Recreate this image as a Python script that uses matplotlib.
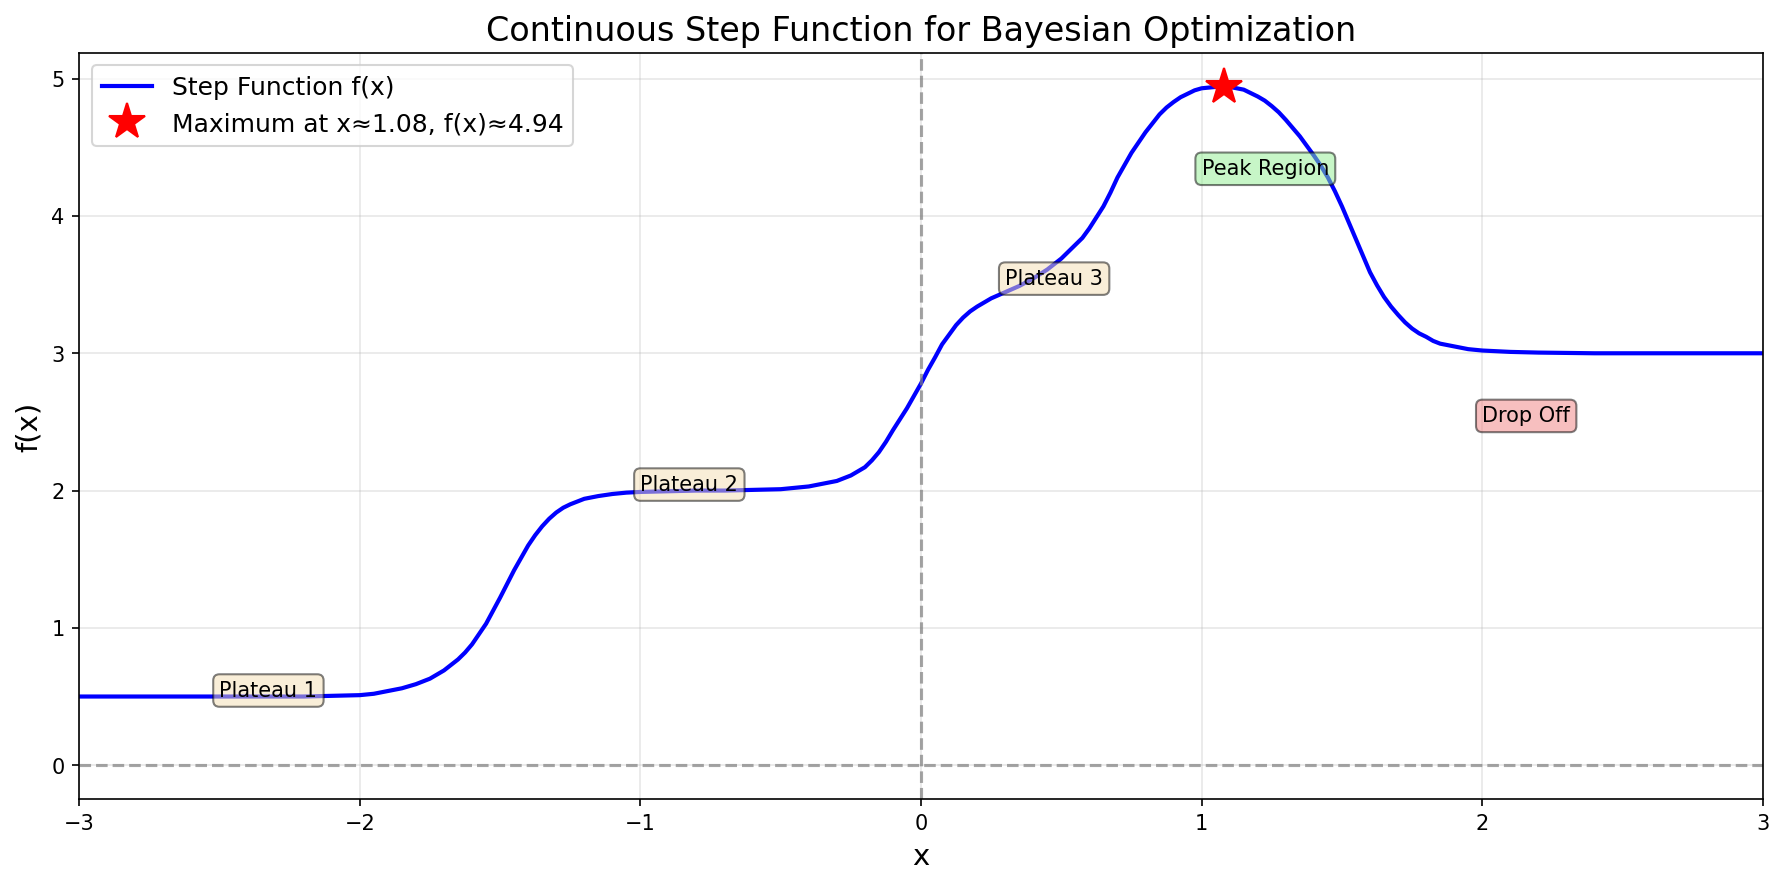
import numpy as np
import matplotlib
matplotlib.use('Agg')
import matplotlib.pyplot as plt

# curve values
x_vals = [-3.0, -2.5, -2.2, -2.1, -2.0, -1.95, -1.9, -1.85, -1.825, -1.8, -1.775,
          -1.75, -1.725, -1.7, -1.675, -1.65, -1.625, -1.6, -1.55, -1.5, -1.45, -1.4,
          -1.375, -1.35, -1.325, -1.3, -1.275, -1.25, -1.225, -1.2, -1.175, -1.15,
          -1.1, -1.05, -1.0, -0.9, -0.8, -0.7, -0.6, -0.5, -0.45, -0.4, -0.35, -0.3,
          -0.25, -0.225, -0.2, -0.175, -0.15, -0.125, -0.1, -0.075, -0.05, 0.0, 0.025,
          0.05, 0.075, 0.1, 0.125, 0.15, 0.175, 0.2, 0.225, 0.25, 0.3, 0.35, 0.4, 0.45,
          0.5, 0.55, 0.575, 0.6, 0.625, 0.65, 0.675, 0.7, 0.75, 0.8, 0.85, 0.875, 0.9,
          0.925, 0.95, 0.975, 1.0, 1.05, 1.1, 1.15, 1.2, 1.225, 1.25, 1.275, 1.3, 1.325,
          1.35, 1.4, 1.425, 1.45, 1.475, 1.5, 1.525, 1.55, 1.575, 1.6, 1.625, 1.65,
          1.675, 1.7, 1.725, 1.75, 1.775, 1.8, 1.825, 1.85, 1.9, 1.95, 2.0, 2.1, 2.2,
          2.4, 3.0]
y_vals = [0.5, 0.5, 0.5, 0.505, 0.51, 0.52, 0.54, 0.56, 0.575, 0.59, 0.61,
          0.63, 0.66, 0.69, 0.73, 0.77, 0.82, 0.88, 1.03, 1.22, 1.42, 1.60,
          1.675, 1.74, 1.795, 1.84, 1.875, 1.90, 1.92, 1.94, 1.95, 1.96,
          1.975, 1.985, 1.99, 1.995, 2.0, 2.0, 2.005, 2.01, 2.02, 2.03, 2.05, 2.07,
          2.11, 2.14, 2.17, 2.22, 2.28, 2.355, 2.44, 2.52, 2.60, 2.78, 2.88,
          2.97, 3.065, 3.135, 3.205, 3.26, 3.305, 3.34, 3.37, 3.40, 3.445, 3.49, 3.545, 3.61,
          3.69, 3.79, 3.84, 3.91, 3.99, 4.07, 4.17, 4.28, 4.46, 4.61, 4.74, 4.79, 4.83,
          4.865, 4.89, 4.915, 4.93, 4.94, 4.94, 4.92, 4.87, 4.84, 4.80, 4.755, 4.70, 4.64,
          4.58, 4.44, 4.365, 4.28, 4.18, 4.07, 3.95, 3.83, 3.71, 3.59, 3.495, 3.41,
          3.34, 3.28, 3.225, 3.18, 3.145, 3.12, 3.09, 3.07, 3.05, 3.03, 3.02, 3.01, 3.005,
          3.0, 3.0]

peak_x = 1.08
peak_y = 4.94

labels = ['Plateau 1', 'Plateau 2', 'Plateau 3', 'Peak Region', 'Drop Off']
label_x = [-2.5, -1.0, 0.3, 1.0, 2.0]
label_y = [0.5, 2.0, 3.5, 4.3, 2.5]
label_colors = ['wheat', 'wheat', 'wheat', 'lightgreen', 'lightcoral']

fig, ax = plt.subplots(figsize=(12, 6))
ax.plot(x_vals, y_vals, 'b-', linewidth=2, label='Step Function f(x)')
ax.plot(peak_x, peak_y, 'r*', markersize=18,
        label=f'Maximum at x≈{peak_x:.2f}, f(x)≈{peak_y:.2f}')

ax.axhline(0, color='gray', linestyle='--', alpha=0.7)
ax.axvline(0, color='gray', linestyle='--', alpha=0.7)

for txt, lx, ly, c in zip(labels, label_x, label_y, label_colors):
    ax.text(lx, ly, txt, fontsize=10,
            bbox=dict(boxstyle='round', facecolor=c, alpha=0.5))

ax.set_xlim(-3, 3)
ax.set_xlabel('x', fontsize=14)
ax.set_ylabel('f(x)', fontsize=14)
ax.set_title('Continuous Step Function for Bayesian Optimization', fontsize=16)
ax.grid(True, alpha=0.3)
ax.legend(loc='upper left', fontsize=12)

plt.tight_layout()
plt.savefig('out.png', dpi=150, bbox_inches='tight')
